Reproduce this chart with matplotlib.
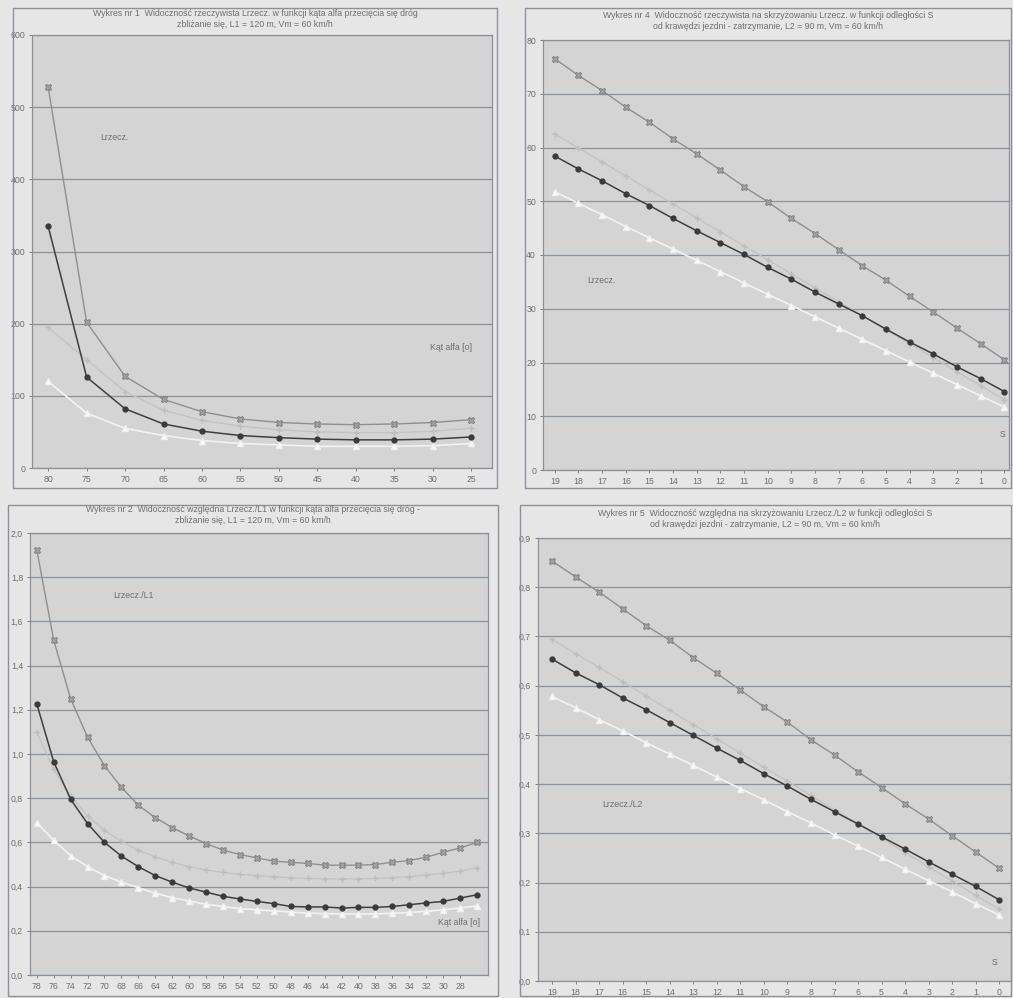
import matplotlib
matplotlib.use("Agg")
import matplotlib.pyplot as plt
from matplotlib.patches import Rectangle
from matplotlib.ticker import FuncFormatter

plt.rcParams['font.family'] = ['Liberation Sans', 'DejaVu Sans']

W, H = 1013, 998

# --- chart 1: Lrzecz. vs kat alfa ---
alfa1 = [80, 75, 70, 65, 60, 55, 50, 45, 40, 35, 30, 25]
c1_top = [528, 202, 127, 95, 78, 68, 63, 61, 60, 61, 63, 67]
c1_mid = [195, 150, 106, 80, 66, 58, 53, 50, 49, 49, 51, 55]
c1_dark = [335, 126, 82, 61, 51, 45, 42, 40, 39, 39, 40, 43]
c1_white = [120, 76, 55, 45, 38, 34, 32, 30, 30, 30, 31, 34]

# --- chart 2: Lrzecz./L1 vs kat alfa ---
alfa2 = [78, 76, 74, 72, 70, 68, 66, 64, 62, 60, 58, 56, 54, 52,
         50, 48, 46, 44, 42, 40, 38, 36, 34, 32, 30, 28, 26]
alfa2_labels = [78, 76, 74, 72, 70, 68, 66, 64, 62, 60, 58, 56, 54,
                52, 50, 48, 46, 44, 42, 40, 38, 36, 34, 32, 30, 28]
c2_top = [1.924, 1.515, 1.25, 1.076, 0.947, 0.849, 0.768, 0.712, 0.667,
          0.629, 0.595, 0.565, 0.545, 0.530, 0.515, 0.510, 0.505, 0.497,
          0.497, 0.497, 0.500, 0.510, 0.518, 0.533, 0.555, 0.575, 0.600]
c2_mid = [1.10, 0.93, 0.81, 0.72, 0.655, 0.605, 0.565, 0.535, 0.51, 0.49,
          0.475, 0.465, 0.455, 0.45, 0.445, 0.44, 0.437, 0.435, 0.435,
          0.435, 0.437, 0.44, 0.445, 0.452, 0.46, 0.47, 0.485]
c2_dark = [1.227, 0.965, 0.795, 0.685, 0.600, 0.538, 0.490, 0.450, 0.420,
           0.394, 0.375, 0.356, 0.344, 0.333, 0.323, 0.310, 0.308, 0.308,
           0.303, 0.306, 0.306, 0.310, 0.318, 0.326, 0.333, 0.348, 0.363]
c2_white = [0.69, 0.61, 0.54, 0.49, 0.45, 0.42, 0.395, 0.37, 0.35, 0.335,
            0.32, 0.31, 0.30, 0.295, 0.29, 0.285, 0.28, 0.278, 0.276,
            0.276, 0.277, 0.279, 0.283, 0.288, 0.295, 0.303, 0.313]

# --- chart 4: Lrzecz. vs S ---
s = [19, 18, 17, 16, 15, 14, 13, 12, 11, 10, 9, 8, 7, 6, 5, 4, 3, 2, 1, 0]
c4_top = [76.5, 73.4, 70.6, 67.5, 64.7, 61.6, 58.8, 55.8, 52.7, 49.9,
          46.8, 44.0, 41.0, 38.0, 35.3, 32.3, 29.4, 26.4, 23.5, 20.5]
c4_mid = [62.5, 59.9, 57.3, 54.7, 52.1, 49.5, 46.9, 44.3, 41.7, 39.1,
          36.5, 33.9, 31.3, 28.7, 26.1, 23.5, 20.9, 18.3, 15.7, 13.1]
c4_dark = [58.4, 56.0, 53.8, 51.4, 49.2, 46.8, 44.5, 42.3, 40.1, 37.7,
           35.5, 33.1, 30.9, 28.7, 26.2, 23.8, 21.6, 19.2, 17.0, 14.6]
c4_white = [51.8, 49.6, 47.5, 45.3, 43.2, 41.1, 39.0, 36.9, 34.8, 32.7,
            30.6, 28.5, 26.4, 24.3, 22.2, 20.1, 18.0, 15.9, 13.8, 11.7]

# --- chart 5: Lrzecz./L2 vs S ---
c5_top = [0.853, 0.821, 0.790, 0.756, 0.722, 0.692, 0.657, 0.625, 0.591,
          0.557, 0.526, 0.490, 0.459, 0.425, 0.393, 0.360, 0.329, 0.295,
          0.262, 0.229]
c5_mid = [0.694, 0.665, 0.637, 0.608, 0.579, 0.550, 0.521, 0.492, 0.463,
          0.434, 0.406, 0.377, 0.348, 0.319, 0.290, 0.261, 0.232, 0.203,
          0.174, 0.146]
c5_dark = [0.654, 0.626, 0.602, 0.575, 0.551, 0.525, 0.499, 0.473, 0.448,
           0.421, 0.396, 0.369, 0.344, 0.319, 0.293, 0.268, 0.242, 0.217,
           0.192, 0.165]
c5_white = [0.578, 0.555, 0.531, 0.508, 0.484, 0.461, 0.438, 0.414, 0.391,
            0.368, 0.344, 0.321, 0.297, 0.274, 0.251, 0.227, 0.204, 0.181,
            0.157, 0.134]

titles = [
    "Wykres nr 1  Widoczność rzeczywista Lrzecz. w funkcji kąta alfa przecięcia się dróg\n"
    "zbliżanie się, L1 = 120 m, Vm = 60 km/h",
    "Wykres nr 4  Widoczność rzeczywista na skrzyżowaniu Lrzecz. w funkcji odległości S\n"
    "od krawędzi jezdni - zatrzymanie, L2 = 90 m, Vm = 60 km/h",
    "Wykres nr 2  Widoczność względna Lrzecz./L1 w funkcji kąta alfa przecięcia się dróg -\n"
    "zbliżanie się, L1 = 120 m, Vm = 60 km/h",
    "Wykres nr 5  Widoczność względna na skrzyżowaniu Lrzecz./L2 w funkcji odległości S\n"
    "od krawędzi jezdni - zatrzymanie, L2 = 90 m, Vm = 60 km/h",
]

paper = '#e6e6e6'
plotbg = '#d4d4d4'
txt = '#6e6e6e'
grid = '#8a949d'

fig = plt.figure(figsize=(W / 100, H / 100), dpi=100, facecolor=paper)


def px_rect(l, t, r, b):
    return [l / W, 1 - b / H, (r - l) / W, (b - t) / H]


# panel frames
for l, t, r, b in [(13, 8, 497, 488), (525, 8, 1011, 488),
                   (8, 505, 498, 996), (520, 505, 1011, 996)]:
    fig.patches.append(Rectangle((l / W, 1 - b / H), (r - l) / W, (b - t) / H,
                                 transform=fig.transFigure, fill=False,
                                 edgecolor='#8a9199', lw=1.0))


def style(ax, ylim, yticks, comma=False):
    ax.set_facecolor(plotbg)
    ax.set_ylim(*ylim)
    ax.set_yticks(yticks)
    ax.yaxis.grid(True, color=grid, lw=0.9)
    ax.set_axisbelow(True)
    for sp in ax.spines.values():
        sp.set_color('#8a9199')
        sp.set_linewidth(0.9)
    ax.tick_params(colors=txt, labelsize=6.3, length=2, width=0.6, pad=3)
    if comma:
        ax.yaxis.set_major_formatter(FuncFormatter(lambda v, p: ('%.1f' % v).replace('.', ',')))


def draw(ax, x, top, mid, dark, white):
    ax.plot(x, top, color='#8f8f8f', lw=1.0, marker='X', ms=5,
            mfc='#a0a0a0', mec='#7c7c7c', mew=0.6)
    ax.plot(x, mid, color='#c2c2c2', lw=0.9, marker='+', ms=4,
            mec='#bdbdbd')
    ax.plot(x, white, color='#f3f3f3', lw=1.2, marker='^', ms=4,
            mfc='#fafafa', mec='#f0f0f0')
    ax.plot(x, dark, color='#3f3f3f', lw=1.1, marker='o', ms=3.5,
            mfc='#3a3a3a', mec='#3a3a3a')


# chart 1
ax1 = fig.add_axes(px_rect(32, 35, 492, 468))
draw(ax1, alfa1, c1_top, c1_mid, c1_dark, c1_white)
style(ax1, (0, 600), range(0, 601, 100))
ax1.set_xlim(82.1, 22.3)
ax1.set_xticks(alfa1)
ax1.text(0.148, 0.757, 'Lrzecz.', transform=ax1.transAxes, fontsize=6.3, color=txt)
ax1.text(0.957, 0.272, 'Kąt alfa [o]', transform=ax1.transAxes, fontsize=6.3,
         color=txt, ha='right')
fig.text((13 + 497) / 2 / W, 1 - 9 / H, titles[0], ha='center', va='top',
         fontsize=6.3, color=txt, linespacing=1.35)

# chart 4
ax4 = fig.add_axes(px_rect(543, 40, 1009, 470))
draw(ax4, s, c4_top, c4_mid, c4_dark, c4_white)
style(ax4, (0, 80), range(0, 81, 10))
ax4.set_xlim(19.5, -0.2)
ax4.set_xticks(s)
ax4.text(0.094, 0.435, 'Lrzecz.', transform=ax4.transAxes, fontsize=6.3, color=txt)
ax4.text(0.992, 0.077, 'S', transform=ax4.transAxes, fontsize=6.3, color=txt, ha='right')
fig.text((525 + 1011) / 2 / W, 1 - 11 / H, titles[1], ha='center', va='top',
         fontsize=6.3, color=txt, linespacing=1.35)

# chart 2
ax2 = fig.add_axes(px_rect(30, 533, 488, 975))
draw(ax2, alfa2, c2_top, c2_mid, c2_dark, c2_white)
style(ax2, (0, 2.0), [i / 10 for i in range(0, 21, 2)], comma=True)
ax2.set_xlim(78.8, 24.7)
ax2.set_xticks(alfa2_labels)
ax2.text(0.181, 0.853, 'Lrzecz./L1', transform=ax2.transAxes, fontsize=6.3, color=txt)
ax2.text(0.982, 0.113, 'Kąt alfa [o]', transform=ax2.transAxes, fontsize=6.3,
         color=txt, ha='right')
fig.text((8 + 498) / 2 / W, 1 - 505 / H, titles[2], ha='center', va='top',
         fontsize=6.3, color=txt, linespacing=1.35)

# chart 5
ax5 = fig.add_axes(px_rect(538, 538, 1011, 981))
draw(ax5, s, c5_top, c5_mid, c5_dark, c5_white)
style(ax5, (0, 0.9), [i / 10 for i in range(0, 10)], comma=True)
ax5.set_xlim(19.6, -0.5)
ax5.set_xticks(s)
ax5.text(0.135, 0.393, 'Lrzecz./L2', transform=ax5.transAxes, fontsize=6.3, color=txt)
ax5.text(0.972, 0.036, 'S', transform=ax5.transAxes, fontsize=6.3, color=txt, ha='right')
fig.text((520 + 1011) / 2 / W, 1 - 509 / H, titles[3], ha='center', va='top',
         fontsize=6.3, color=txt, linespacing=1.35)

fig.savefig('out.png', dpi=100, facecolor=paper)
